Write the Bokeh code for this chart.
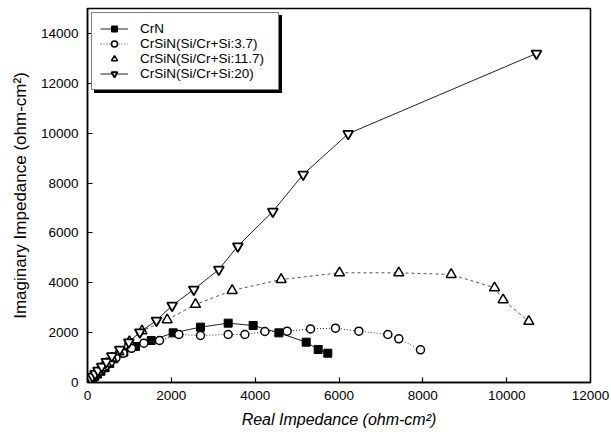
from bokeh.plotting import figure
from bokeh.models import Range1d, FixedTicker, Legend, LegendItem
from bokeh.embed import file_html
from bokeh.resources import INLINE

# ---- data ----
crn_x = [15, 40, 75, 120, 175, 240, 320, 420, 530, 628, 867, 1145, 1520, 2044, 2696, 3356, 3952, 4565, 5217, 5503, 5733]
crn_y = [25, 60, 110, 170, 250, 340, 450, 590, 760, 950, 1217, 1444, 1685, 1992, 2220, 2380, 2286, 1992, 1617, 1324, 1175]

s37_x = [15, 40, 75, 120, 175, 240, 320, 420, 540, 680, 850, 1050, 1344, 1718, 2179, 2696, 3356, 3754, 4231, 4763, 5320, 5916, 6473, 7165, 7427, 7944]
s37_y = [30, 70, 130, 200, 290, 390, 510, 660, 820, 990, 1170, 1370, 1576, 1685, 1925, 1885, 1925, 1925, 2046, 2058, 2150, 2178, 2058, 1925, 1752, 1311]

s117_x = [15, 40, 75, 120, 180, 250, 340, 450, 580, 750, 1000, 1300, 1901, 2576, 3451, 4620, 6011, 7427, 8676, 9710, 9916, 10528]
s117_y = [30, 75, 140, 220, 320, 440, 590, 770, 980, 1230, 1640, 2070, 2514, 3129, 3690, 4131, 4400, 4400, 4332, 3798, 3317, 2447]

s20_x = [15, 40, 75, 120, 180, 250, 340, 450, 580, 771, 986, 1248, 1646, 2020, 2536, 3133, 3586, 4421, 5145, 6219, 10711]
s20_y = [30, 80, 150, 240, 350, 480, 640, 830, 1060, 1324, 1617, 2018, 2487, 3089, 3730, 4533, 5468, 6859, 8343, 9976, 13197]

labels = ["CrN", "CrSiN(Si/Cr+Si:3.7)", "CrSiN(Si/Cr+Si:11.7)", "CrSiN(Si/Cr+Si:20)"]
x_ticks = [0, 2000, 4000, 6000, 8000, 10000, 12000]
y_ticks = [0, 2000, 4000, 6000, 8000, 10000, 12000, 14000]

FONT = "Liberation Sans"

p = figure(width=611, height=441, output_backend="svg", toolbar_location=None,
           x_range=Range1d(0, 12000), y_range=Range1d(0, 15000),
           min_border_left=87, min_border_right=21, min_border_top=8, min_border_bottom=59)
p.grid.visible = False
p.background_fill_color = "white"
p.border_fill_color = "white"
p.outline_line_color = "black"
p.outline_line_width = 1.5

for ax in (p.xaxis[0], p.yaxis[0]):
    ax.major_tick_in = 5
    ax.major_tick_out = 0
    ax.minor_tick_line_color = None
    ax.axis_line_color = "black"
    ax.axis_line_width = 1.5
    ax.major_tick_line_width = 1.2
    ax.major_label_text_font = FONT
    ax.major_label_text_font_size = "13.5px"
    ax.major_label_text_color = "black"
    ax.axis_label_text_font = FONT
    ax.axis_label_text_color = "black"

p.xaxis[0].ticker = FixedTicker(ticks=x_ticks)
p.yaxis[0].ticker = FixedTicker(ticks=y_ticks)
p.xaxis[0].axis_label = "Real Impedance (ohm-cm\u00b2)"
p.xaxis[0].axis_label_text_font_style = "italic"
p.xaxis[0].axis_label_text_font_size = "16px"
p.yaxis[0].axis_label = "Imaginary Impedance (ohm-cm\u00b2)"
p.yaxis[0].axis_label_text_font_style = "normal"
p.yaxis[0].axis_label_text_font_size = "17px"
p.xaxis[0].major_label_standoff = 8
p.yaxis[0].major_label_standoff = 9
p.xaxis[0].axis_label_standoff = 8
p.yaxis[0].axis_label_standoff = 8

# ---- series ----
l1 = p.line(crn_x, crn_y, line_color="#222222", line_width=1)
m1 = p.scatter(crn_x, crn_y, marker="square", size=8, fill_color="black", line_color="black")

l2 = p.line(s37_x, s37_y, line_color="#333333", line_width=1, line_dash="1 2")
m2 = p.scatter(s37_x, s37_y, marker="circle", size=8, fill_color="white", line_color="black", line_width=1.5)

l3 = p.line(s117_x, s117_y, line_color="#555555", line_width=1, line_dash="3 3")
m3 = p.scatter(s117_x, s117_y, marker="triangle", size=10, fill_color="white", line_color="black", line_width=1.5)

l4 = p.line(s20_x, s20_y, line_color="#222222", line_width=1)
m4 = p.scatter(s20_x, s20_y, marker="inverted_triangle", size=10, fill_color="white", line_color="black", line_width=1.8)

def make_items(texts):
    return [
        LegendItem(label=texts[0], renderers=[l1, m1]),
        LegendItem(label=texts[1], renderers=[l2, m2]),
        LegendItem(label=texts[2], renderers=[m3]),
        LegendItem(label=texts[3], renderers=[l4, m4]),
    ]

def style(lg):
    lg.location = "top_left"
    lg.label_text_font = FONT
    lg.label_text_font_size = "13.5px"
    lg.label_height = 15
    lg.glyph_height = 15
    lg.glyph_width = 28
    lg.label_width = 130
    lg.spacing = 0
    lg.padding = 8
    lg.label_standoff = 12
    lg.border_line_color = "black"
    lg.border_line_width = 1.2

# shadow box behind the legend (same size, blank labels, offset by 3 px)
shadow = Legend(items=make_items([" ", " ", " ", " "]))
style(shadow)
shadow.margin = 7
shadow.background_fill_color = "black"
shadow.background_fill_alpha = 1.0

front = Legend(items=make_items(labels))
style(front)
front.margin = 4
front.background_fill_color = "white"
front.background_fill_alpha = 1.0
front.label_text_color = "black"

p.add_layout(shadow)
p.add_layout(front)

open("out.html", "w").write(file_html(p, INLINE))
